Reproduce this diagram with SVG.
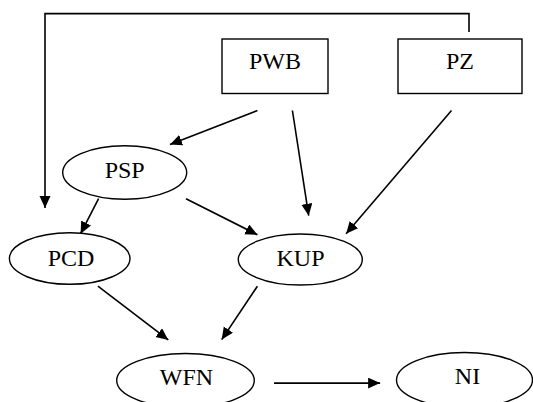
<svg xmlns="http://www.w3.org/2000/svg" width="533" height="402" viewBox="0 0 533 402">
<style>
.n{fill:#fff;stroke:#000;stroke-width:1.4}
.t{font-family:'Liberation Serif','Times New Roman',Times,serif;font-size:24px;fill:#000;text-anchor:middle}
.c{fill:none;stroke:#000;stroke-width:1.6}
.a{marker-end:url(#ah)}
</style>
<defs>
<marker id="ah" markerUnits="userSpaceOnUse" markerWidth="14" markerHeight="13" refX="12" refY="5.5" orient="auto">
<path d="M0,0 L12,5.5 L0,11 z" fill="#000"/>
</marker>
</defs>
<g id="connectors">
<polyline class="c a" points="469,32 469,13.6 45,13.6 45,208"/>
<line class="c a" x1="257.4" y1="110.5" x2="170" y2="144.6"/>
<line class="c a" x1="292.4" y1="110.5" x2="308.7" y2="215.7"/>
<line class="c a" x1="451.5" y1="110.5" x2="346.1" y2="233.7"/>
<line class="c a" x1="98.6" y1="198.7" x2="80.6" y2="233.7"/>
<line class="c a" x1="186" y1="198.7" x2="257.4" y2="234.7"/>
<line class="c a" x1="97.9" y1="286.2" x2="168.3" y2="339.9"/>
<line class="c a" x1="257.4" y1="286.2" x2="221.7" y2="339.6"/>
<line class="c a" x1="274" y1="383.1" x2="380.1" y2="383.1"/>
</g>
<g id="PWB"><rect class="n" x="222" y="39" width="106" height="54.5"/><text class="t" x="275" y="68.5">PWB</text></g>
<g id="PZ"><rect class="n" x="398" y="39" width="124" height="54.5"/><text class="t" x="460" y="68.5">PZ</text></g>
<g id="PSP"><ellipse class="n" cx="124.7" cy="172.5" rx="62" ry="26.8"/><text class="t" x="124.7" y="177.5">PSP</text></g>
<g id="PCD"><ellipse class="n" cx="69.7" cy="258.5" rx="60.3" ry="25.8"/><text class="t" x="71" y="266">PCD</text></g>
<g id="KUP"><ellipse class="n" cx="300.3" cy="259.5" rx="62" ry="25.5"/><text class="t" x="300.5" y="266">KUP</text></g>
<g id="WFN"><ellipse class="n" cx="185.5" cy="380.5" rx="68.8" ry="27"/><text class="t" x="186.5" y="385">WFN</text></g>
<g id="NI"><ellipse class="n" cx="464.5" cy="380" rx="68" ry="27.5"/><text class="t" x="467.5" y="384">NI</text></g>
</svg>
